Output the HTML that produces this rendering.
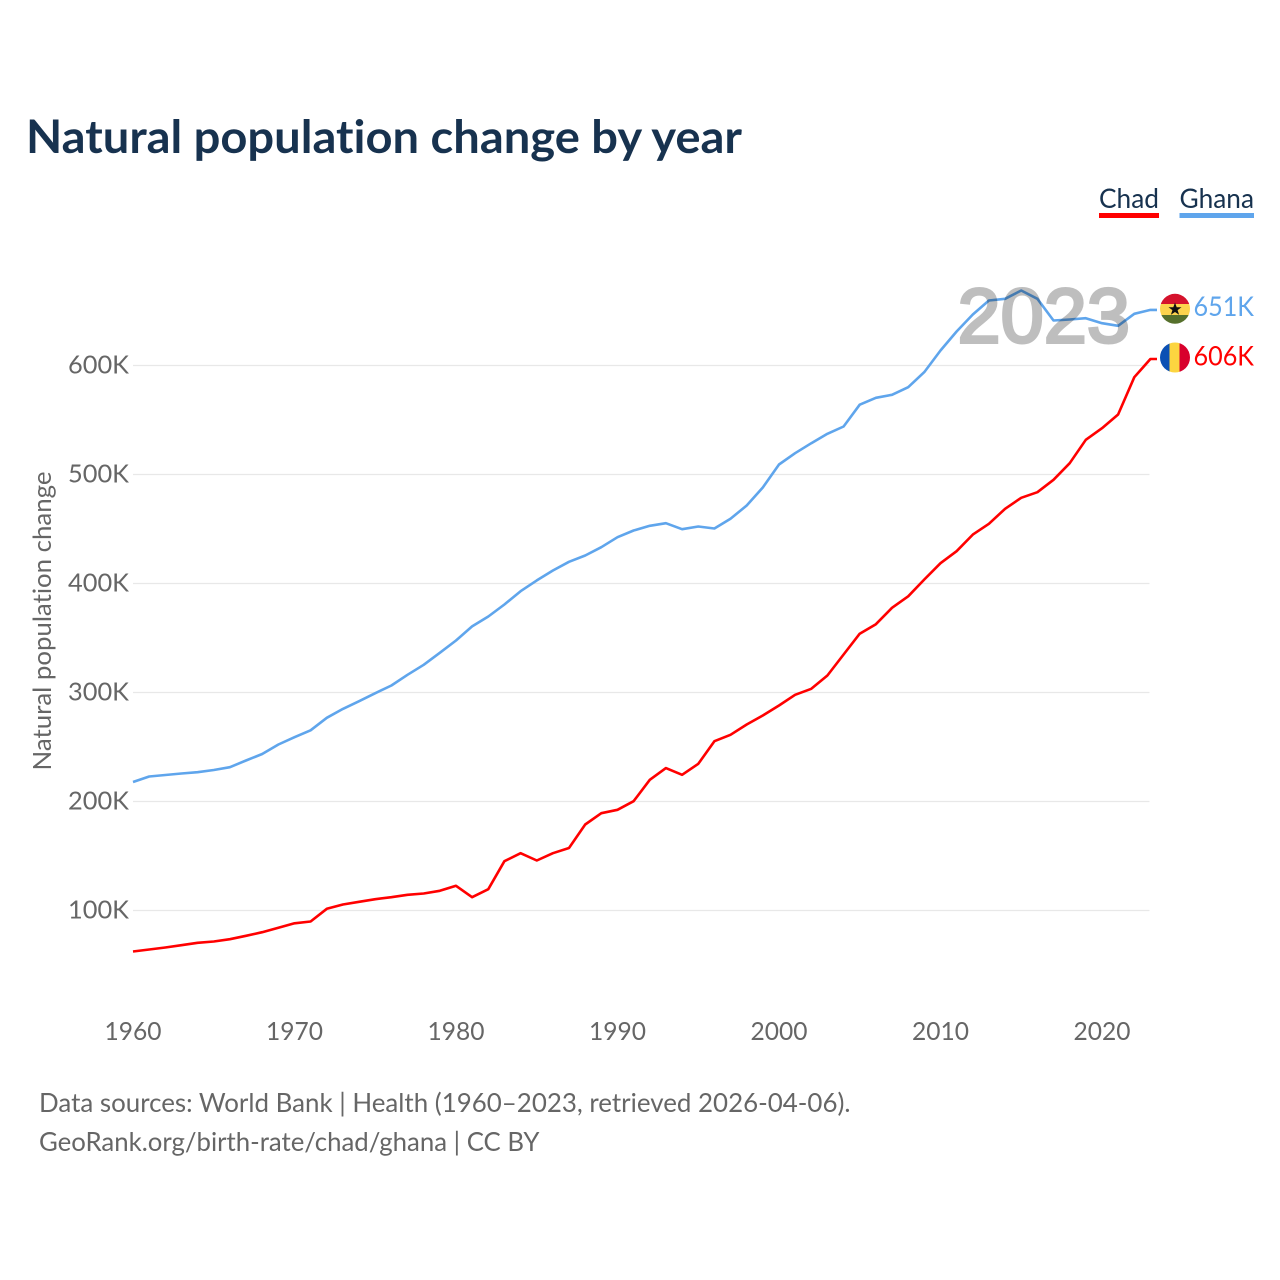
<!DOCTYPE html>
<html lang="en">
<head>
<meta charset="utf-8">
<title>Natural population change by year</title>
<style>
html,body{margin:0;padding:0;background:#fff;width:1280px;height:1280px;overflow:hidden}
svg{display:block}
text{font-family:"Lato","Carlito","Liberation Sans",sans-serif;font-variant-ligatures:none}
</style>
</head>
<body>
<svg id="chart" xmlns="http://www.w3.org/2000/svg" width="1280" height="1280" viewBox="0 0 1280 1280">
  <rect x="0" y="0" width="1280" height="1280" fill="#ffffff"/>
  <text x="26" y="153" font-size="46" font-weight="700" fill="#17324f" textLength="716" lengthAdjust="spacingAndGlyphs">Natural population change by year</text>
  <g>
    <g>
      <text x="1099" y="208" font-size="27" fill="#17324f" textLength="60" lengthAdjust="spacingAndGlyphs">Chad</text>
      <rect x="1099" y="213" width="60" height="5" fill="#ff0000"/>
    </g>
    <g>
      <text x="1179.5" y="208" font-size="27" fill="#17324f" textLength="74.5" lengthAdjust="spacingAndGlyphs">Ghana</text>
      <rect x="1179.5" y="213" width="74.5" height="5" fill="#5fa5ec"/>
    </g>
  </g>
  <text transform="translate(51 621) rotate(-90)" text-anchor="middle" font-size="25" fill="#666666" textLength="299" lengthAdjust="spacingAndGlyphs">Natural population change</text>
  <g id="grid"></g>
  <g id="yticks"></g>
  <g id="xticks"></g>
  <g id="series"></g>
  <text x="957.5" y="342.5" style="font-family:'Liberation Sans',sans-serif" font-size="77" font-weight="400" fill="#000000" stroke="#000000" stroke-width="3" opacity="0.25" textLength="172.5" lengthAdjust="spacingAndGlyphs">2023</text>
  <defs>
    <clipPath id="clip-ghana"><circle cx="1175" cy="308.8" r="15"/></clipPath>
    <clipPath id="clip-chad"><circle cx="1175" cy="357.5" r="15"/></clipPath>
  </defs>
  <g clip-path="url(#clip-ghana)">
    <rect x="1160" y="293" width="30" height="11" fill="#d5122c"/>
    <rect x="1160" y="304" width="30" height="11" fill="#fcd34d"/>
    <rect x="1160" y="315" width="30" height="10" fill="#56702c"/>
    <polygon points="1175,302.5 1176.7,307.2 1181.5,307.2 1177.6,310.1 1179.1,314.8 1175,312 1170.9,314.8 1172.4,310.1 1168.5,307.2 1173.3,307.2" fill="#111111"/>
  </g>
  <g clip-path="url(#clip-chad)">
    <rect x="1160" y="342" width="9.5" height="31" fill="#0b50b4"/>
    <rect x="1169.5" y="342" width="10" height="31" fill="#fcd540"/>
    <rect x="1179.5" y="342" width="10.5" height="31" fill="#d8002c"/>
  </g>
  <g id="endlabels"></g>
  <text x="39" y="1112" font-size="26" fill="#666666" textLength="811.5" lengthAdjust="spacingAndGlyphs">Data sources: World Bank | Health (1960–2023, retrieved 2026-04-06).</text>
  <text x="39" y="1151" font-size="26" fill="#666666" textLength="500.5" lengthAdjust="spacingAndGlyphs">GeoRank.org/birth-rate/chad/ghana | CC BY</text>
</svg>
<script>
var firstYear = 1960;
var ghanaValues = [217.9,222.9,224.3,225.7,226.9,228.9,231.5,237.6,243.6,252.3,259,265.3,276.8,285,292,299.4,306.4,316.2,325.4,336.4,347.7,360.6,369.7,380.7,392.9,402.8,411.9,419.9,425.7,433.3,442.5,448.6,452.9,455.3,449.8,452.3,450.5,459.4,471.6,488.1,509.2,519.5,528.7,537.3,544,564,570.4,573.1,580.1,593.9,613.8,631.2,646.8,659.6,661.2,668.8,661.2,641.3,642.2,643.4,638.8,636.4,647.4,651];
var chadValues = [62.4,64.2,66.1,68.2,70.4,71.6,73.7,76.8,80.1,84.1,88.3,89.9,101.6,105.5,108,110.4,112.2,114.4,115.6,118.1,122.7,112.2,119.5,145.2,152.6,145.9,152.6,157.3,178.9,189.3,192.4,200.3,219.9,230.6,224.5,234.6,255.3,261.2,270.6,278.9,288.1,297.9,303.4,315.6,334.9,353.9,362.7,377.7,388.3,403.7,418.6,429.6,444.9,454.8,468.5,478.6,483.8,495.1,510.4,531.8,542.5,555,589.3,606];
var yTickValues = [100,200,300,400,500,600];
var xTickYears = [1960,1970,1980,1990,2000,2010,2020];

var NS = 'http://www.w3.org/2000/svg';
function xScale(year){ return 133 + (year - 1960) * 16.15; }
function yScale(v){ return 910.5 - (v - 100) * 1.09; }
function make(tag, parent, attrs){
  var el = document.createElementNS(NS, tag);
  for (var k in attrs) el.setAttribute(k, attrs[k]);
  document.getElementById(parent).appendChild(el);
  return el;
}

yTickValues.forEach(function(v){
  var y = yScale(v);
  var line = make('line', 'grid', {x1:133, x2:1149.5, y1:y, y2:y, stroke:'#e8e8e8', 'stroke-width':1.2});
  
  
  var label = make('text', 'yticks', {x:129, y:y + 8, 'text-anchor':'end', 'font-size':25, fill:'#666666', textLength:61, lengthAdjust:'spacingAndGlyphs'});
  
  
  label.textContent = v + 'K';
});

xTickYears.forEach(function(yr){
  var label = make('text', 'xticks', {x:xScale(yr), y:1040, 'text-anchor':'middle', 'font-size':25, fill:'#666666', textLength:57, lengthAdjust:'spacingAndGlyphs'});
  
  
  label.textContent = yr;
});

function drawSeries(values, color, key, labelY){
  var pts = values.map(function(v, i){ return xScale(firstYear + i).toFixed(1) + ',' + yScale(v).toFixed(1); });
  var last = values[values.length - 1];
  pts.push('1157,' + yScale(last).toFixed(1));
  var line = make('polyline', 'series', {points:pts.join(' '), fill:'none', stroke:color, 'stroke-width':2.6, 'stroke-linejoin':'round'});
  
  
  var label = make('text', 'endlabels', {x:1193.5, y:labelY, 'font-size':27, fill:color, textLength:60.5, lengthAdjust:'spacingAndGlyphs'});
  
  
  label.textContent = Math.round(last) + 'K';
}
drawSeries(ghanaValues, '#5fa5ec', 'ghana', yScale(ghanaValues[ghanaValues.length - 1]) + 6);
drawSeries(chadValues, '#ff0000', 'chad', yScale(chadValues[chadValues.length - 1]) + 6.5);
</script>
</body>
</html>
